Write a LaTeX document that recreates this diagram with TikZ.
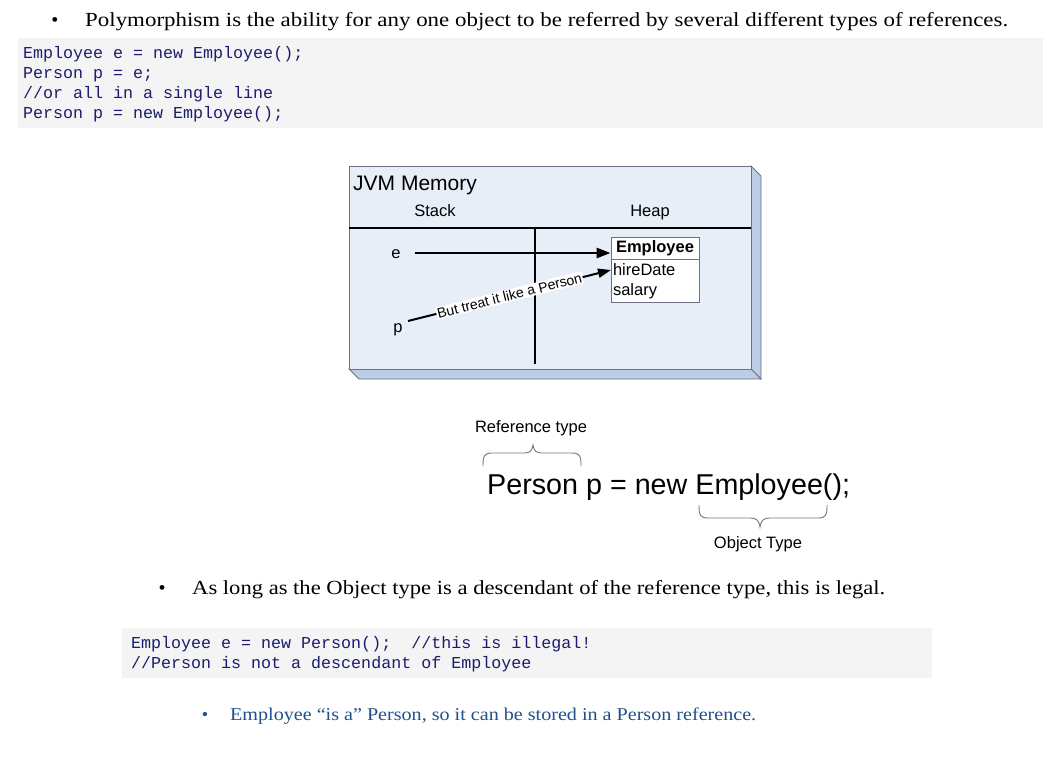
\documentclass[tikz,border=0pt]{standalone}
\usepackage{fontspec}
\setmainfont{Liberation Serif}
\setsansfont{Liberation Sans}
\setmonofont{Liberation Mono}
\usetikzlibrary{arrows.meta}
\definecolor{codebg}{RGB}{244,244,244}
\definecolor{codefg}{RGB}{28,28,110}
\definecolor{memface}{RGB}{232,238,248}
\definecolor{memside}{RGB}{188,206,230}
\definecolor{memedge}{RGB}{105,115,130}
\definecolor{notefg}{RGB}{30,80,140}
\definecolor{bracegray}{RGB}{120,120,120}
\newcommand{\fitto}[2]{\resizebox{#1}{\height}{#2}}
\begin{document}
\begin{tikzpicture}[x=1pt,y=-1pt,
  seriftext/.style={font=\fontsize{20}{24}\selectfont, anchor=base west, inner sep=0pt},
  bullet/.style={font=\fontsize{20}{24}\selectfont, anchor=base, inner sep=0pt},
  codetext/.style={font=\ttfamily\fontsize{16.67}{20}\selectfont, text=codefg, anchor=base west, inner sep=0pt},
  sanstext/.style={font=\sffamily\fontsize{16.5}{20}\selectfont, inner sep=0pt},
  codebox/.style={fill=codebg, draw=none},
  divider/.style={line width=2.6pt, black},
  refarrow/.style={line width=2.6pt, -{Triangle[length=14pt,width=10pt]}},
  brace/.style={draw=bracegray, line width=0.9pt}
]
\useasboundingbox (0,0) rectangle (1043,777);

% ---- bullet 1
\node[bullet] (b1) at (55,26) {•};
\node[seriftext] (t1) at (85,26) {\fitto{923pt}{Polymorphism is the ability for any one object to be referred by several different types of references.}};

% ---- code block 1
\fill[codebox] (18,38) rectangle (1043,128);
\node[codetext] (c1) at (23,58) {Employee e = new Employee();};
\node[codetext] (c2) at (23,78) {Person p = e;};
\node[codetext] (c3) at (23,98) {//or all in a single line};
\node[codetext] (c4) at (23,118) {Person p = new Employee();};

% ---- JVM memory box (3D)
\filldraw[fill=memside, draw=memedge, line width=0.8pt] (751,166) -- (761,176) -- (761,379) -- (751,369) -- cycle;
\filldraw[fill=memside, draw=memedge, line width=0.8pt] (349,369) -- (751,369) -- (761,379) -- (359,379) -- cycle;
\filldraw[fill=memface, draw=memedge, line width=0.8pt] (349,166) rectangle (751,369);
\node[font=\sffamily\fontsize{21}{24}\selectfont, anchor=base west, inner sep=0pt] (jvm) at (353,190) {JVM Memory};
\node[sanstext, anchor=base] (stack) at (435,216) {Stack};
\node[sanstext, anchor=base] (heap) at (650,216) {Heap};
\draw[divider] (349,228) -- (751,228);
\draw[divider] (535,228) -- (535,364);

\node[sanstext, anchor=base] (e) at (396,258) {e};
\node[sanstext, anchor=base] (p) at (398,332) {p};

\node[draw=memedge, fill=white, line width=0.8pt, minimum width=88pt, minimum height=22pt, inner sep=0pt,
      font=\sffamily\bfseries\fontsize{16.5}{20}\selectfont] (emp) at (655,248) {Employee};
\node[draw=memedge, fill=white, line width=0.8pt, minimum width=88pt, minimum height=43pt, inner sep=2pt,
      anchor=north, align=left, text width=84pt, font=\sffamily\fontsize{16.5}{20}\selectfont] (fields) at (emp.south) {hireDate\\salary};

\coordinate (estart) at (415,253);
\draw[refarrow] (estart) -- (estart -| emp.west);
\coordinate (pstart) at (408,321);
\coordinate (pend) at (611,270);
\draw[line width=2pt, -{Triangle[length=13pt,width=9pt]}] (pstart) -- (pend)
  node[midway, sloped, fill=white, inner sep=1pt, font=\sffamily\fontsize{14}{16}\selectfont] (treat) {But treat it like a Person};

% ---- reference / object type
\node[sanstext, anchor=base] (reftype) at (531,432) {Reference type};
\draw[brace] (483,466) .. controls (483,456) and (484,453) .. (492,453) -- (524,453)
  .. controls (530,453) and (532,451) .. (533,445) .. controls (534,451) and (536,453) .. (542,453)
  -- (572,453) .. controls (580,453) and (581,456) .. (581,466);
\node[font=\sffamily\fontsize{28.7}{32}\selectfont, anchor=base west, inner sep=0pt] (decl) at (487,494) {Person p = new Employee();};
\draw[brace] (699,505) .. controls (699,515) and (700,518) .. (708,518) -- (750,518)
  .. controls (756,518) and (759,520) .. (760,527) .. controls (761,520) and (764,518) .. (770,518)
  -- (818,518) .. controls (826,518) and (827,515) .. (827,505);
\node[sanstext, anchor=base] (objtype) at (758,548) {Object Type};

% ---- bullet 2
\node[bullet] (b2) at (162,594) {•};
\node[seriftext] (t2) at (192,594) {\fitto{693pt}{As long as the Object type is a descendant of the reference type, this is legal.}};

% ---- code block 2
\fill[codebox] (122,628) rectangle (932,678);
\node[codetext] (c5) at (131,648) {Employee e = new Person();\ \ //this is illegal!};
\node[codetext] (c6) at (131,668) {//Person is not a descendant of Employee};

% ---- bullet 3
\node[bullet, text=notefg, font=\fontsize{18}{22}\selectfont] (b3) at (205,720) {•};
\node[seriftext, text=notefg, font=\fontsize{18}{22}\selectfont] (t3) at (230,720) {\fitto{526pt}{Employee “is a” Person, so it can be stored in a Person reference.}};
\end{tikzpicture}
\end{document}
